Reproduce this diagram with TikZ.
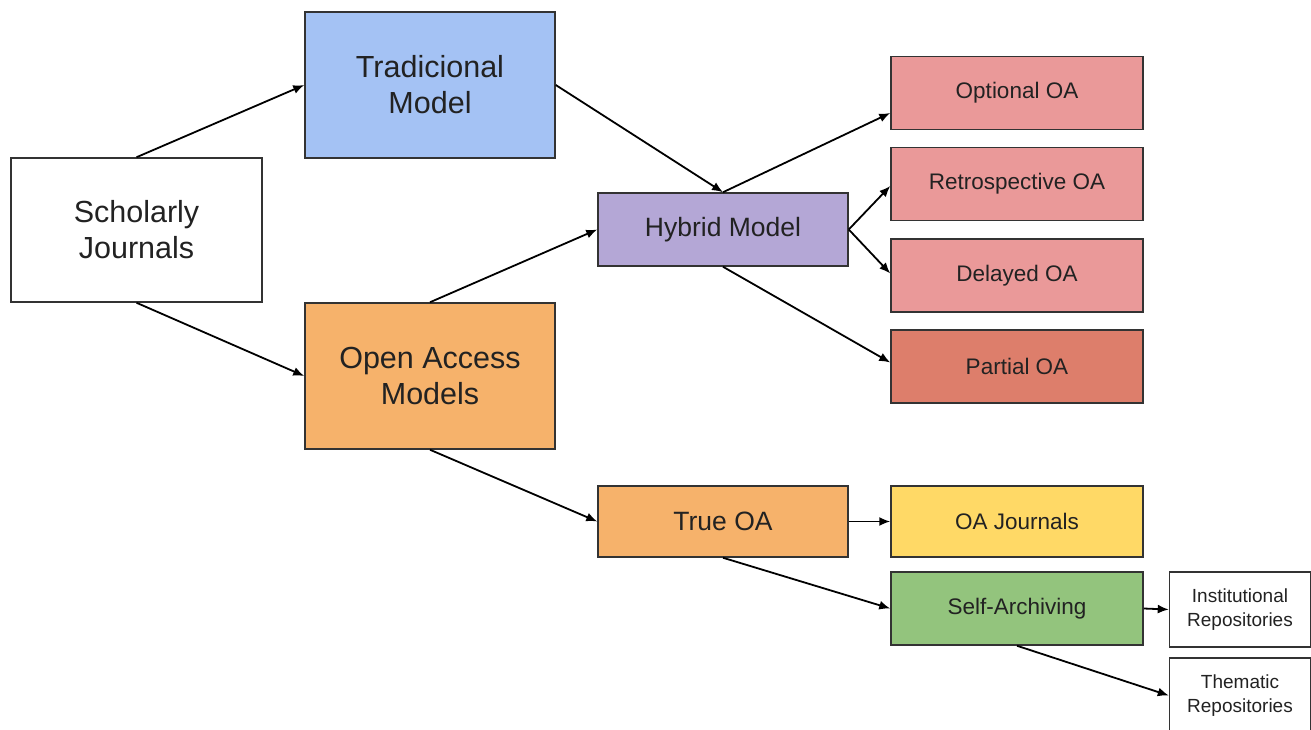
\documentclass[tikz,border=0pt]{standalone}
\usepackage{fontspec}
\setmainfont{Liberation Sans}
\usetikzlibrary{arrows.meta}
\definecolor{cblue}{HTML}{A4C2F4}
\definecolor{corange}{HTML}{F6B26B}
\definecolor{cpurple}{HTML}{B4A7D6}
\definecolor{cpink}{HTML}{EA9999}
\definecolor{cred}{HTML}{DD7E6B}
\definecolor{cyellow}{HTML}{FFD966}
\definecolor{cgreen}{HTML}{93C47D}
\definecolor{cborder}{HTML}{333333}
\definecolor{ctext}{HTML}{222222}
\tikzset{
  box/.style={draw=cborder, line width=1.5pt, rectangle, inner sep=0pt, align=center, text=ctext},
  bigbox/.style={box, minimum width=250pt, minimum height=146pt, font=\fontsize{30.5}{36}\selectfont},
  midbox/.style={box, minimum width=250pt, minimum height=73pt, font=\fontsize{26.5}{30}\selectfont},
  leafbox/.style={box, minimum width=252pt, minimum height=73pt, font=\fontsize{22.5}{25}\selectfont},
  repobox/.style={box, fill=white, minimum width=141pt, minimum height=75pt, font=\fontsize{19}{24}\selectfont},
  arr/.style={draw=black, line width=1.8pt, -{Latex[length=11pt,width=9pt]}},
}
\begin{document}
\begin{tikzpicture}[x=1pt,y=-1pt]
\useasboundingbox (0,0) rectangle (1311,730);
\node[bigbox, fill=white, minimum width=251pt, minimum height=144pt] (sj) at (136.5,230) {Scholarly\\Journals};
\node[bigbox, fill=cblue] (trad) at (430,85) {Tradicional\\Model};
\node[bigbox, fill=corange] (oa) at (430,376) {Open Access\\Models};
\node[midbox, fill=cpurple] (hyb) at (723,229.5) {Hybrid Model};
\node[midbox, fill=corange, minimum height=71pt] (true) at (723,521.5) {True OA};
\node[leafbox, fill=cpink] (opt) at (1017,93) {Optional OA};
\node[leafbox, fill=cpink] (retro) at (1017,184) {Retrospective OA};
\node[leafbox, fill=cpink] (delay) at (1017,275.5) {Delayed OA};
\node[leafbox, fill=cred] (part) at (1017,366.5) {Partial OA};
\node[leafbox, fill=cyellow, minimum height=71pt] (oaj) at (1017,521.5) {OA Journals};
\node[leafbox, fill=cgreen] (self) at (1017,608.5) {Self-Archiving};
\node[repobox] (inst) at (1240,609.5) {Institutional\\Repositories};
\node[repobox] (them) at (1240,695.5) {Thematic\\Repositories};
\draw[arr] (sj.north) -- (trad.west);
\draw[arr] (sj.south) -- (oa.west);
\draw[arr] (trad.east) -- (hyb.north);
\draw[arr] (oa.north) -- (hyb.west);
\draw[arr] (oa.south) -- (true.west);
\draw[arr] (hyb.north) -- ([yshift=-20pt]opt.west);
\draw[arr] (hyb.east) -- ([yshift=-2pt]retro.west);
\draw[arr] (hyb.east) -- ([yshift=2pt]delay.west);
\draw[arr] (hyb.south) -- ([yshift=4pt]part.west);
\draw[arr] (true.east) -- (oaj.west);
\draw[arr] (true.south) -- (self.west);
\draw[arr] (self.east) -- (inst.west);
\draw[arr] (self.south) -- (them.west);
\end{tikzpicture}
\end{document}
